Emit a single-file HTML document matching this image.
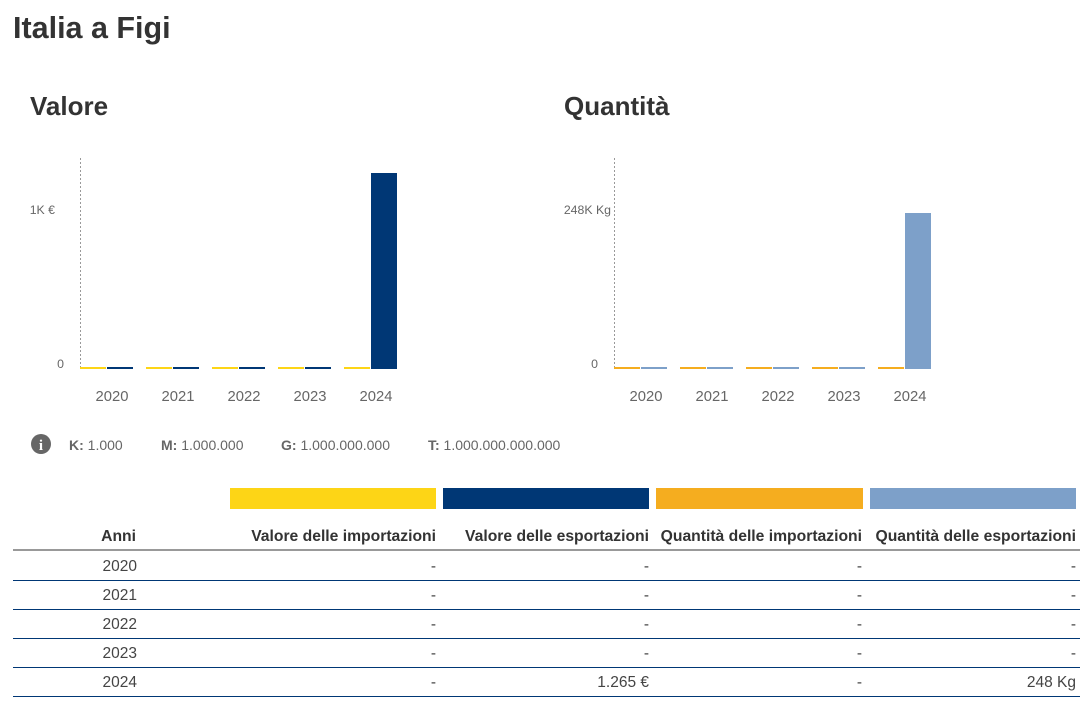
<!DOCTYPE html>
<html><head><meta charset="utf-8"><style>
body{margin:0;width:1087px;height:708px;background:#fff;font-family:"Liberation Sans",sans-serif;position:relative;overflow:hidden;color:#333}
.a{position:absolute;white-space:nowrap}
h1,h2{margin:0;position:absolute;font-weight:bold;color:#333}
.r{text-align:right}
.hd{font-size:15.7px;font-weight:bold;color:#333}
.c{font-size:15.5px;color:#444}
</style></head><body>
<h1 style="left:13px;top:11px;font-size:30.5px">Italia a Figi</h1>
<h2 style="left:30px;top:91px;font-size:26px">Valore</h2>
<h2 style="left:564px;top:91px;font-size:26px">Quantità</h2>

<svg class="a" style="left:0;top:0" width="1087" height="470">
<line x1="80.5" y1="158" x2="80.5" y2="368" stroke="#999" stroke-dasharray="2,2"/>
<line x1="614.5" y1="158" x2="614.5" y2="368" stroke="#999" stroke-dasharray="2,2"/>
<g fill="#fdd516">
<rect x="80" y="367" width="26" height="2"/><rect x="146" y="367" width="26" height="2"/><rect x="212" y="367" width="26" height="2"/><rect x="278" y="367" width="26" height="2"/><rect x="344" y="367" width="26" height="2"/>
</g>
<g fill="#003775">
<rect x="107" y="367" width="26" height="2"/><rect x="173" y="367" width="26" height="2"/><rect x="239" y="367" width="26" height="2"/><rect x="305" y="367" width="26" height="2"/><rect x="371" y="173" width="26" height="196"/>
</g>
<g fill="#f5ad1f">
<rect x="614" y="367" width="26" height="2"/><rect x="680" y="367" width="26" height="2"/><rect x="746" y="367" width="26" height="2"/><rect x="812" y="367" width="26" height="2"/><rect x="878" y="367" width="26" height="2"/>
</g>
<g fill="#7da0c9">
<rect x="641" y="367" width="26" height="2"/><rect x="707" y="367" width="26" height="2"/><rect x="773" y="367" width="26" height="2"/><rect x="839" y="367" width="26" height="2"/><rect x="905" y="213" width="26" height="156"/>
</g>
<g font-family="Liberation Sans" font-size="12.3" fill="#666" text-anchor="end">
<text x="55" y="214">1K €</text><text x="64" y="368">0</text>
<text x="611" y="214">248K Kg</text><text x="598" y="368">0</text>
</g>
<g font-family="Liberation Sans" font-size="14.8" fill="#666" text-anchor="middle">
<text x="112" y="401">2020</text><text x="178" y="401">2021</text><text x="244" y="401">2022</text><text x="310" y="401">2023</text><text x="376" y="401">2024</text>
<text x="646" y="401">2020</text><text x="712" y="401">2021</text><text x="778" y="401">2022</text><text x="844" y="401">2023</text><text x="910" y="401">2024</text>
</g>
<circle cx="41" cy="444" r="10" fill="#666"/>
<text x="41" y="450" font-family="Liberation Serif" font-weight="bold" font-size="15" fill="#fff" text-anchor="middle">i</text>
<g font-family="Liberation Sans" font-size="14" fill="#666">
<text x="69" y="450"><tspan font-weight="bold">K:</tspan> 1.000</text>
<text x="161" y="450"><tspan font-weight="bold">M:</tspan> 1.000.000</text>
<text x="281" y="450"><tspan font-weight="bold">G:</tspan> 1.000.000.000</text>
<text x="428" y="450"><tspan font-weight="bold">T:</tspan> 1.000.000.000.000</text>
</g>
</svg>

<div class="a" style="left:230px;top:488px;width:206px;height:21px;background:#fdd516"></div>
<div class="a" style="left:443px;top:488px;width:206px;height:21px;background:#003775"></div>
<div class="a" style="left:656px;top:488px;width:207px;height:21px;background:#f5ad1f"></div>
<div class="a" style="left:870px;top:488px;width:206px;height:21px;background:#7da0c9"></div>

<div class="a hd r" style="right:951px;top:528px">Anni</div>
<div class="a hd r" style="right:651px;top:528px">Valore delle importazioni</div>
<div class="a hd r" style="right:438px;top:528px">Valore delle esportazioni</div>
<div class="a hd r" style="right:225px;top:528px">Quantità delle importazioni</div>
<div class="a hd r" style="right:11px;top:528px">Quantità delle esportazioni</div>
<div class="a" style="left:13px;top:549px;width:1067px;height:2px;background:#999"></div>

<div class="a" style="left:0;top:558px;width:1087px">
<div style="position:relative;height:29px"><div class="a c r" style="right:950px">2020</div><div class="a c r" style="right:651px">-</div><div class="a c r" style="right:438px">-</div><div class="a c r" style="right:225px">-</div><div class="a c r" style="right:11px">-</div></div>
<div style="position:relative;height:29px"><div class="a c r" style="right:950px">2021</div><div class="a c r" style="right:651px">-</div><div class="a c r" style="right:438px">-</div><div class="a c r" style="right:225px">-</div><div class="a c r" style="right:11px">-</div></div>
<div style="position:relative;height:29px"><div class="a c r" style="right:950px">2022</div><div class="a c r" style="right:651px">-</div><div class="a c r" style="right:438px">-</div><div class="a c r" style="right:225px">-</div><div class="a c r" style="right:11px">-</div></div>
<div style="position:relative;height:29px"><div class="a c r" style="right:950px">2023</div><div class="a c r" style="right:651px">-</div><div class="a c r" style="right:438px">-</div><div class="a c r" style="right:225px">-</div><div class="a c r" style="right:11px">-</div></div>
<div style="position:relative;height:29px"><div class="a c r" style="right:950px">2024</div><div class="a c r" style="right:651px">-</div><div class="a c r" style="right:438px">1.265 €</div><div class="a c r" style="right:225px">-</div><div class="a c r" style="right:11px">248 Kg</div></div>
</div>
<div class="a" style="left:13px;top:580px;width:1067px;height:1px;background:#003775"></div>
<div class="a" style="left:13px;top:609px;width:1067px;height:1px;background:#003775"></div>
<div class="a" style="left:13px;top:638px;width:1067px;height:1px;background:#003775"></div>
<div class="a" style="left:13px;top:667px;width:1067px;height:1px;background:#003775"></div>
<div class="a" style="left:13px;top:696px;width:1067px;height:1px;background:#003775"></div>
</body></html>
